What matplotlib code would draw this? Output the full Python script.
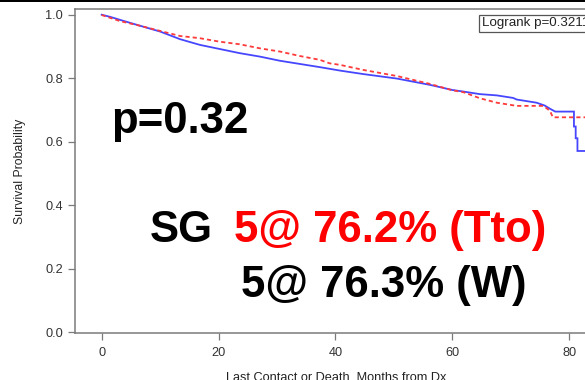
import matplotlib
matplotlib.use("Agg")
import matplotlib.pyplot as plt
from matplotlib.patches import Rectangle

plt.rcParams["font.family"] = ["Liberation Sans", "DejaVu Sans"]

# Kaplan-Meier estimates (months from diagnosis, survival probability)
w_months = [0, 1.5, 3.1, 6.6, 10.0, 13.4, 16.8, 20.2, 23.6, 27.1, 30.5, 33.9,
            37.3, 40.8, 44.8, 50.5, 56.2, 60.0, 61.9, 64.7, 67.6, 70.4, 71.0,
            74.4, 75.8, 76.7, 77.6, 80.8, 80.8, 81.1, 81.1, 81.4, 81.4, 84.0]
w_surv = [1.000, 0.993, 0.984, 0.965, 0.947, 0.923, 0.905, 0.892, 0.879, 0.868,
          0.855, 0.845, 0.835, 0.824, 0.813, 0.799, 0.779, 0.763, 0.758, 0.750,
          0.746, 0.738, 0.733, 0.723, 0.714, 0.704, 0.695, 0.695, 0.648, 0.648,
          0.611, 0.611, 0.571, 0.571]

tto_months = [0, 3.1, 6.6, 10.0, 13.4, 16.8, 20.2, 23.6, 27.1, 30.5, 33.9,
              37.3, 39.0, 40.8, 44.8, 50.5, 56.2, 60.0, 61.9, 64.7, 67.6, 71.0,
              75.6, 76.7, 77.2, 84.0]
tto_surv = [0.999, 0.980, 0.965, 0.949, 0.933, 0.926, 0.915, 0.907, 0.894,
            0.884, 0.870, 0.858, 0.847, 0.842, 0.826, 0.807, 0.782, 0.762,
            0.756, 0.737, 0.723, 0.713, 0.713, 0.697, 0.677, 0.677]

x_ticks = [0, 20, 40, 60, 80]
y_ticks = [0.0, 0.2, 0.4, 0.6, 0.8, 1.0]
y_tick_labels = ["0.0", "0.2", "0.4", "0.6", "0.8", "1.0"]

W, H = 585, 380
fig = plt.figure(figsize=(W / 100, H / 100), dpi=100)

ax_left, ax_right, ax_bottom, ax_top = 75, 620, 333, 9.3
ax = fig.add_axes([ax_left / W, 1 - ax_bottom / H,
                   (ax_right - ax_left) / W, (ax_bottom - ax_top) / H])

ax.plot(w_months, w_surv, color="#4646ff", lw=1.3, solid_joinstyle="miter")
ax.plot(tto_months, tto_surv, color="#ff3a3a", lw=1.3,
        linestyle=(0, (2.3, 1.7)))

ax.set_xlim(-4.56, 88.68)
ax.set_ylim(-0.002, 1.017)

spine_col = "#7a7a7a"
for side in ["left", "bottom", "top", "right"]:
    ax.spines[side].set_color(spine_col)
    ax.spines[side].set_linewidth(1.1)

ax.set_xticks(x_ticks)
ax.set_yticks(y_ticks)
ax.set_yticklabels(y_tick_labels)
ax.tick_params(axis="both", length=5, width=0.9, color=spine_col,
               labelsize=9.2, labelcolor="#333333")
ax.tick_params(axis="y", pad=3.5)
ax.tick_params(axis="x", pad=5)

ax.set_ylabel("Survival Probability", fontsize=8.8, color="#222222", va="center")
ax.yaxis.set_label_coords((20 - ax_left) / (ax_right - ax_left), 0.5)
ax.set_xlabel("Last Contact or Death, Months from Dx", fontsize=9.2,
              color="#222222", va="top")
ax.xaxis.set_label_coords((336 - ax_left) / (ax_right - ax_left),
                          (ax_bottom - 372) / (ax_bottom - ax_top))


def fx(px):
    return px / W


def fy(py):
    return 1 - py / H


fig.text(fx(481.5), fy(23.3), "Logrank p=0.3211", fontsize=9.6,
         color="#222222", ha="left", va="center",
         bbox=dict(boxstyle="square,pad=0.2", fc="white", ec="#555555", lw=0.9))

big = dict(fontsize=31.5, fontweight="bold", va="baseline", ha="center")
fig.text(fx(180), fy(133.3), "p=0.32", color="black", **big)
fig.text(fx(181.5), fy(241.7), "SG", color="black", **big)
fig.text(fx(390.5), fy(241.7), "5@ 76.2% (Tto)", color="#ff0000", **big)
fig.text(fx(384), fy(297), "5@ 76.3% (W)", color="black", **big)

# thin black rule along the top edge
fig.add_artist(Rectangle((0, 1 - 2 / H), 1, 2 / H, transform=fig.transFigure,
                         color="black", lw=0, zorder=10))

fig.savefig("out.png", dpi=100)
